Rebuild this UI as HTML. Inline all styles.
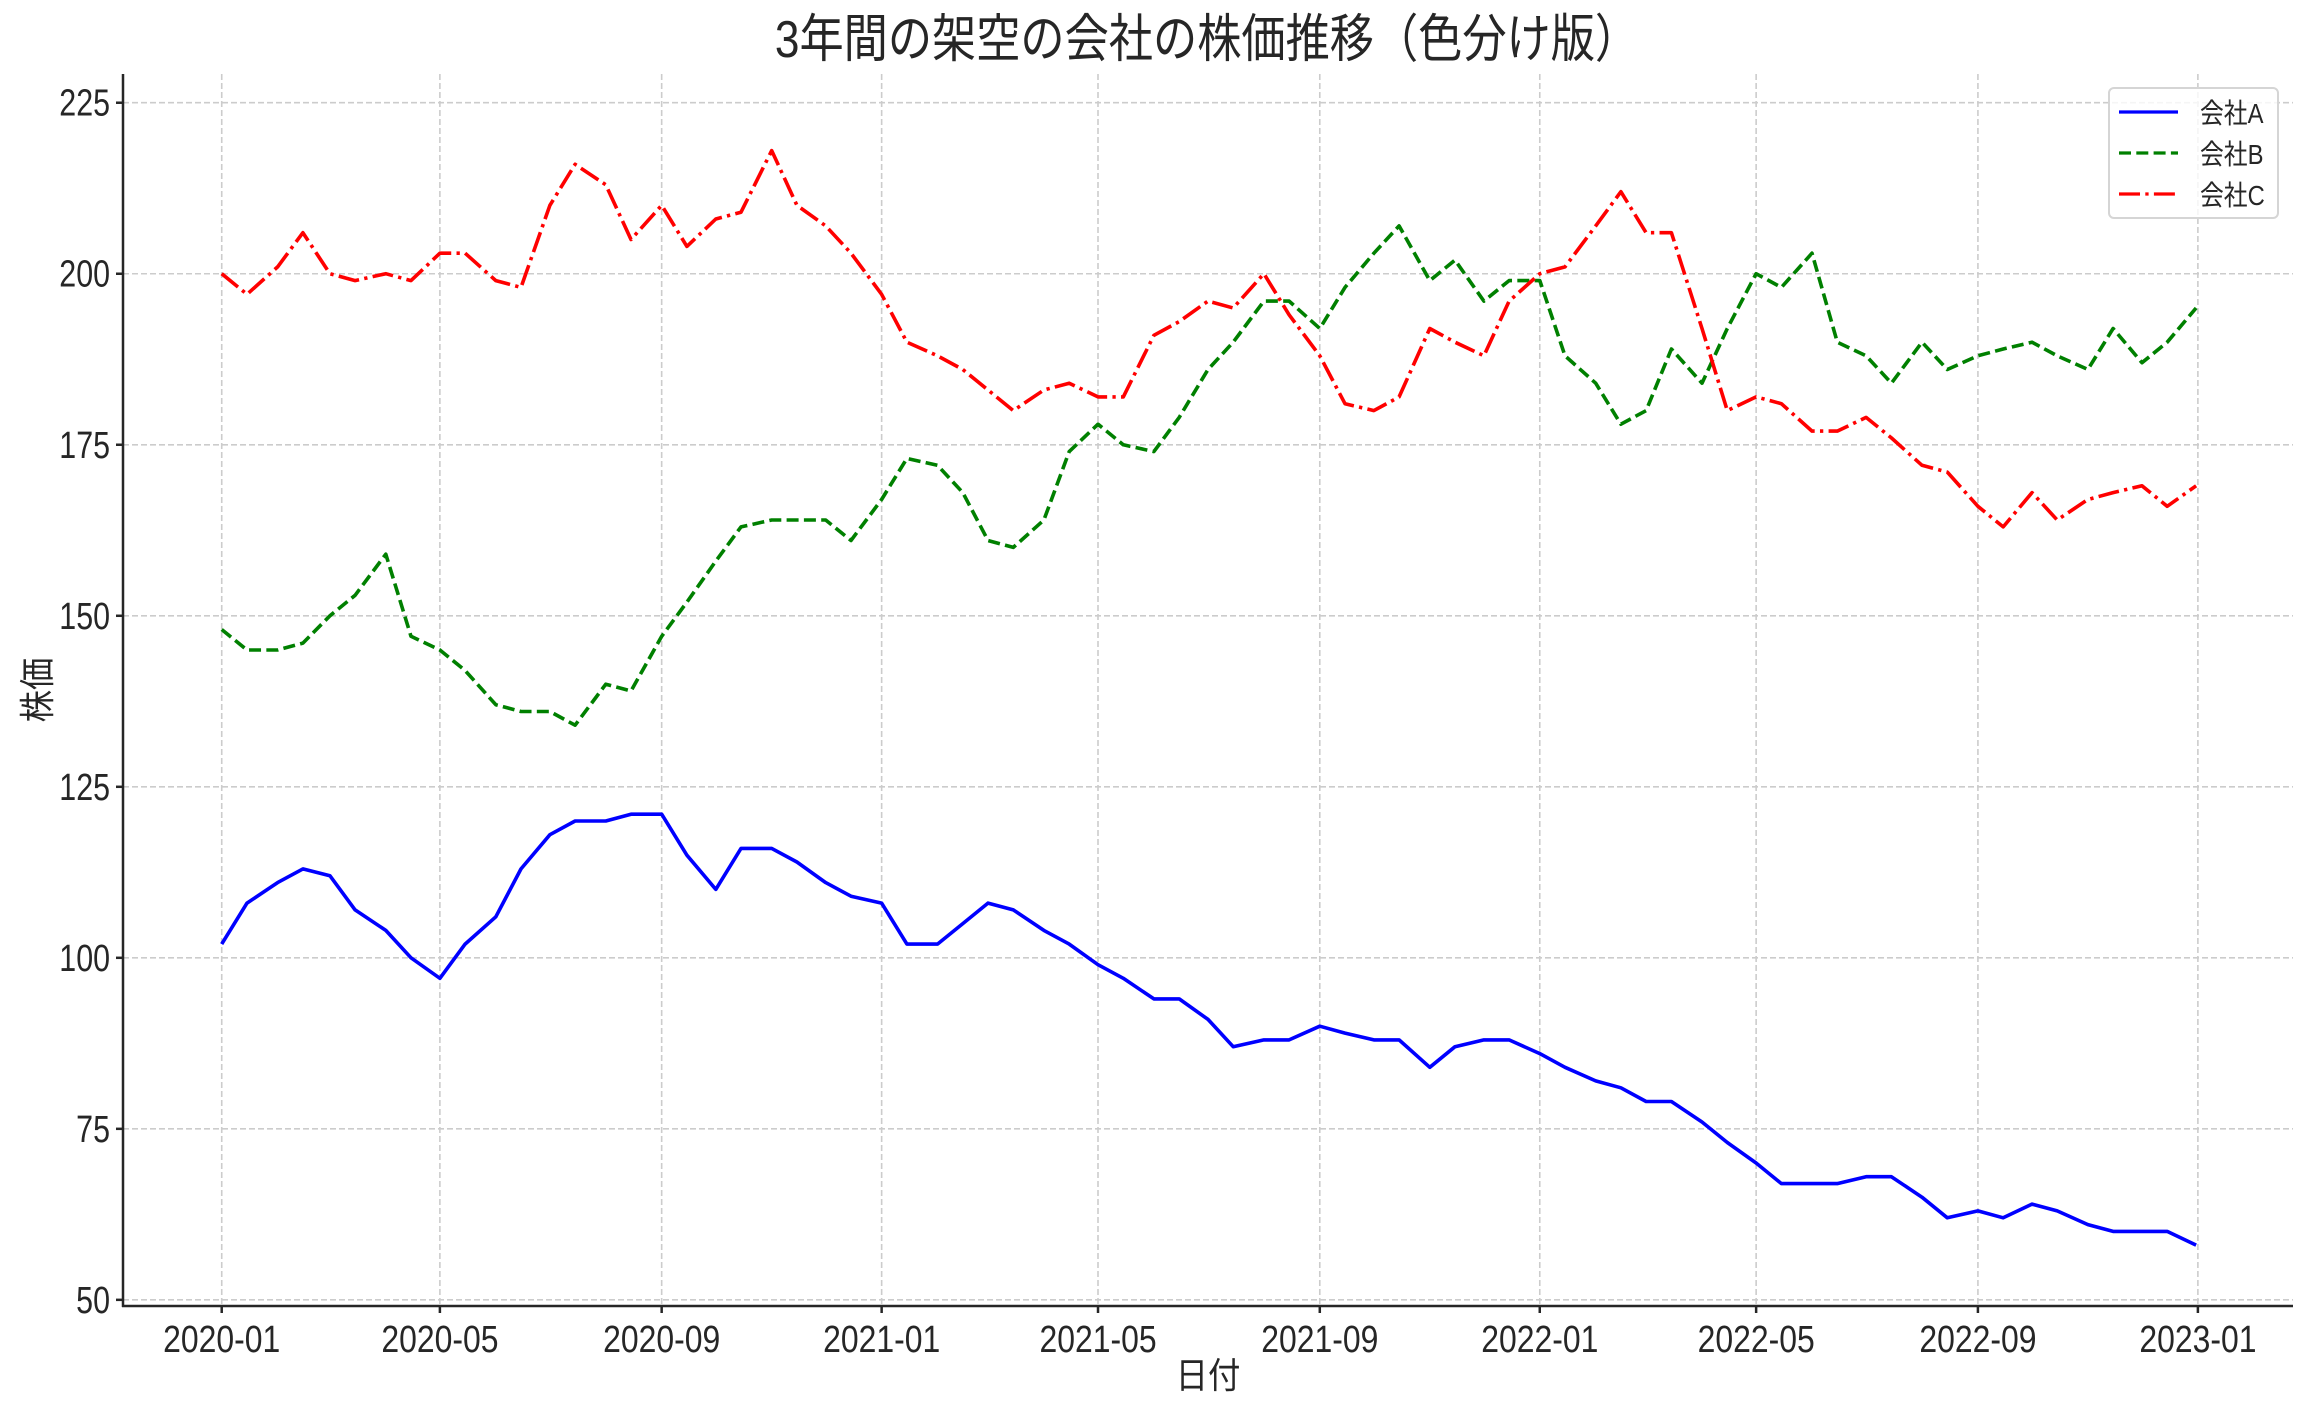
<!DOCTYPE html>
<html><head><meta charset="utf-8">
<style>
html,body{margin:0;padding:0;background:#fff;}
svg text{font-family:"Liberation Sans","Noto Sans CJK JP",sans-serif;fill:#262626;}
</style></head>
<body>
<svg id="chart" width="2312" height="1409" viewBox="0 0 2312 1409" xmlns="http://www.w3.org/2000/svg">
<rect x="0" y="0" width="2312" height="1409" fill="#fff"/>
<g id="grid"></g>
<g id="series"></g>
<g id="axes"></g>
<text transform="translate(1207,57) scale(0.85,1)" text-anchor="middle" font-size="52">3年間の架空の会社の株価推移（色分け版）</text>
<text transform="translate(1208,1388) scale(0.9,1)" text-anchor="middle" font-size="36">日付</text>
<text transform="translate(50,690) rotate(-90) scale(0.9,1)" text-anchor="middle" font-size="36">株価</text>
<g>
<rect x="2109" y="88" width="169" height="130" rx="5" fill="#fff" fill-opacity="0.8" stroke="#d5d5d5" stroke-width="2"/>
<line x1="2119" y1="112" x2="2178" y2="112" stroke="#0000ff" stroke-width="3.3"/>
<text transform="translate(2200,123) scale(0.85,1)" font-size="28">会社A</text>
<line x1="2119" y1="153" x2="2178" y2="153" stroke="#008000" stroke-width="3.3" stroke-dasharray="12,5.3"/>
<text transform="translate(2200,164) scale(0.85,1)" font-size="28">会社B</text>
<line x1="2119" y1="194" x2="2178" y2="194" stroke="#ff0000" stroke-width="3.3" stroke-dasharray="21,5.3,3.3,5.3"/>
<text transform="translate(2200,205) scale(0.85,1)" font-size="28">会社C</text>
</g>
</svg>
<script>
const dates = ["2020-01-01","2020-01-15","2020-02-01","2020-02-15","2020-03-01","2020-03-15","2020-04-01","2020-04-15","2020-05-01","2020-05-15","2020-06-01","2020-06-15","2020-07-01","2020-07-15","2020-08-01","2020-08-15","2020-09-01","2020-09-15","2020-10-01","2020-10-15","2020-11-01","2020-11-15","2020-12-01","2020-12-15",
"2021-01-01","2021-01-15","2021-02-01","2021-02-15","2021-03-01","2021-03-15","2021-04-01","2021-04-15","2021-05-01","2021-05-15","2021-06-01","2021-06-15","2021-07-01","2021-07-15","2021-08-01","2021-08-15","2021-09-01","2021-09-15","2021-10-01","2021-10-15","2021-11-01","2021-11-15","2021-12-01","2021-12-15",
"2022-01-01","2022-01-15","2022-02-01","2022-02-15","2022-03-01","2022-03-15","2022-04-01","2022-04-15","2022-05-01","2022-05-15","2022-06-01","2022-06-15","2022-07-01","2022-07-15","2022-08-01","2022-08-15","2022-09-01","2022-09-15","2022-10-01","2022-10-15","2022-11-01","2022-11-15","2022-12-01","2022-12-15","2022-12-31"];
const companyA = [102,108,111,113,112,107,104,100,97,102,106,113,118,120,120,121,121,115,110,116,116,114,111,109,
108,102,102,105,108,107,104,102,99,97,94,94,91,87,88,88,90,89,88,88,84,87,88,88,
86,84,82,81,79,79,76,73,70,67,67,67,68,68,65,62,63,62,64,63,61,60,60,60,58];
const companyB = [148,145,145,146,150,153,159,147,145,142,137,136,136,134,140,139,147,152,158,163,164,164,164,161,
167,173,172,168,161,160,164,174,178,175,174,179,186,190,196,196,192,198,203,207,199,202,196,199,
199,188,184,178,180,189,184,192,200,198,203,190,188,184,190,186,188,189,190,188,186,192,187,190,195];
const companyC = [200,197,201,206,200,199,200,199,203,203,199,198,210,216,213,205,210,204,208,209,218,210,207,203,
197,190,188,186,183,180,183,184,182,182,191,193,196,195,200,194,188,181,180,182,192,190,188,196,
200,201,207,212,206,206,192,180,182,181,177,177,179,176,172,171,166,163,168,164,167,168,169,166,169];
const yTicks = [50,75,100,125,150,175,200,225];
const xTickLabels = ["2020-01","2020-05","2020-09","2021-01","2021-05","2021-09","2022-01","2022-05","2022-09","2023-01"];

const NS="http://www.w3.org/2000/svg";
const L=123,R=2293,T=74,B=1306;
const t0=Date.UTC(2020,0,1);
const dayOf=s=>{const p=s.split("-");return (Date.UTC(+p[0],+p[1]-1,+(p[2]||1))-t0)/86400000;};
const xMin=-54.75,xMax=1094+54.75;
const yMin=49.1,yMax=229.2;
const xs=d=>L+(d-xMin)/(xMax-xMin)*(R-L);
const ys=v=>B-(v-yMin)/(yMax-yMin)*(B-T);
function mk(tag,attrs,parent){const e=document.createElementNS(NS,tag);for(const k in attrs)e.setAttribute(k,attrs[k]);parent.appendChild(e);return e;}
const grid=document.getElementById("grid"),axes=document.getElementById("axes"),series=document.getElementById("series");
yTicks.forEach(v=>{
  const y=ys(v);
  const g=mk("line",{x1:L,x2:R,y1:y,y2:y,stroke:"#cccccc","stroke-width":1.6,"stroke-dasharray":"6,3"},grid);
  
  
  const tk=mk("line",{x1:L-7,x2:L,y1:y,y2:y,stroke:"#262626","stroke-width":2.5},axes);
  
  
  const tx=mk("text",{transform:`translate(${L-13},${y+13}) scale(0.8,1)`,"text-anchor":"end","font-size":38},axes);
  tx.textContent=v;
  
  
});
xTickLabels.forEach(lbl=>{
  const x=xs(dayOf(lbl));
  const g=mk("line",{x1:x,x2:x,y1:T,y2:B,stroke:"#cccccc","stroke-width":1.6,"stroke-dasharray":"6,3"},grid);
  
  
  const tk=mk("line",{x1:x,x2:x,y1:B,y2:B+7,stroke:"#262626","stroke-width":2.5},axes);
  
  
  const tx=mk("text",{transform:`translate(${x},${B+46}) scale(0.84,1)`,"text-anchor":"middle","font-size":38},axes);
  tx.textContent=lbl;
  
  
});
const sl=mk("line",{x1:L,x2:L,y1:T,y2:B+1,stroke:"#262626","stroke-width":2.5},axes);


const sb=mk("line",{x1:L-1,x2:R,y1:B,y2:B,stroke:"#262626","stroke-width":2.5},axes);


function drawSeries(vals,color,dash,name){
  const pts=vals.map((v,i)=>xs(dayOf(dates[i])).toFixed(1)+","+ys(v).toFixed(1)).join(" ");
  const p=mk("polyline",{points:pts,fill:"none",stroke:color,"stroke-width":3.6,"stroke-linejoin":"round"},series);
  if(dash)p.setAttribute("stroke-dasharray",dash);
  
  
}
drawSeries(companyA,"#0000ff",null,"line-company-a");
drawSeries(companyB,"#008000","12,5.3","line-company-b");
drawSeries(companyC,"#ff0000","21,5.3,3.3,5.3","line-company-c");
</script>
</body></html>
